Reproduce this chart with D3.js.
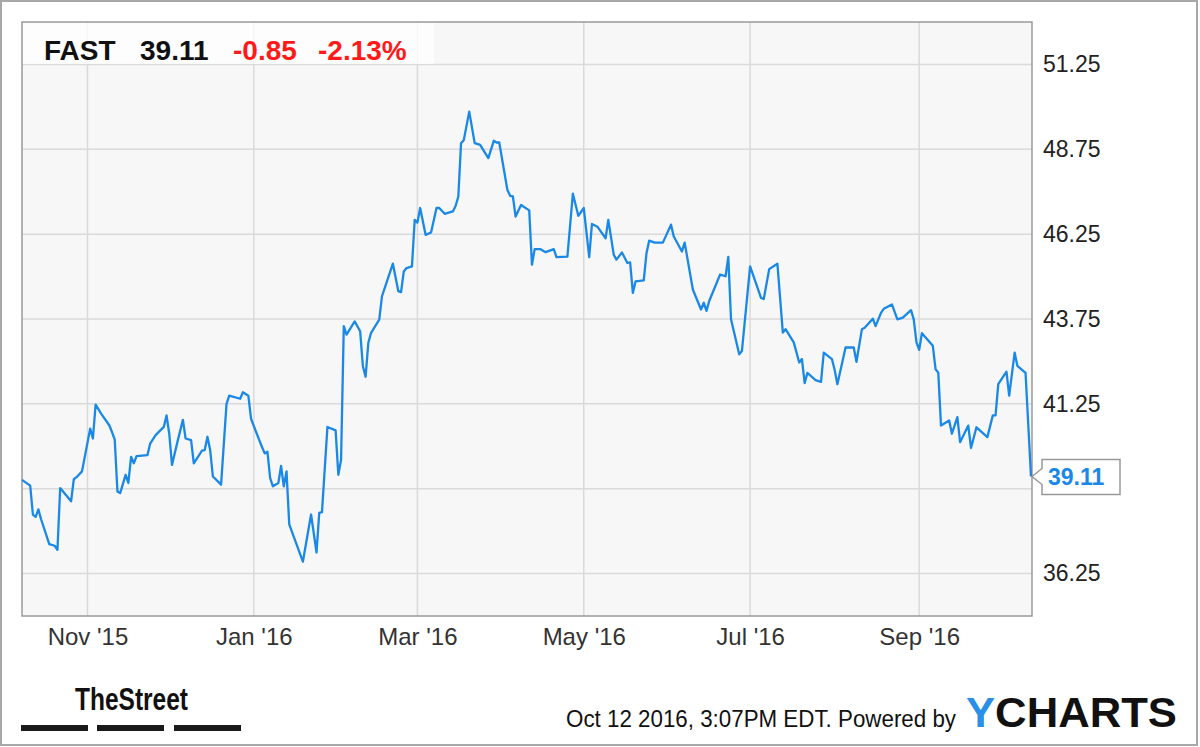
<!DOCTYPE html>
<html>
<head>
<meta charset="utf-8">
<script src="https://cdn.jsdelivr.net/npm/d3@7"></script>
<style>
  body { margin: 0; background: #fff; }
  svg { display: block; font-family: "Liberation Sans", Arial, sans-serif; }
</style>
</head>
<body>
<svg id="chart" width="1200" height="747"></svg>
<script>
// closing prices
var dates = [
  "2015-10-08","2015-10-11","2015-10-12","2015-10-13","2015-10-14","2015-10-15","2015-10-18","2015-10-20","2015-10-21","2015-10-22",
  "2015-10-26","2015-10-27","2015-10-28","2015-10-30","2015-11-02","2015-11-03","2015-11-04","2015-11-06","2015-11-09","2015-11-10",
  "2015-11-11","2015-11-12","2015-11-13","2015-11-15","2015-11-16","2015-11-17","2015-11-18","2015-11-19","2015-11-23","2015-11-24",
  "2015-11-26","2015-11-29","2015-11-30","2015-12-01","2015-12-02","2015-12-04","2015-12-06","2015-12-07","2015-12-09","2015-12-10",
  "2015-12-13","2015-12-14","2015-12-15","2015-12-16","2015-12-17","2015-12-20","2015-12-22","2015-12-23","2015-12-27","2015-12-28",
  "2015-12-30","2015-12-31","2016-01-03","2016-01-04","2016-01-05","2016-01-06","2016-01-07","2016-01-08","2016-01-10","2016-01-11",
  "2016-01-12","2016-01-13","2016-01-14","2016-01-19","2016-01-22","2016-01-24","2016-01-25","2016-01-26","2016-01-28","2016-01-31",
  "2016-02-01","2016-02-02","2016-02-03","2016-02-04","2016-02-07","2016-02-09","2016-02-10","2016-02-11","2016-02-12","2016-02-13",
  "2016-02-16","2016-02-17","2016-02-18","2016-02-21","2016-02-23","2016-02-24","2016-02-25","2016-02-26","2016-02-28","2016-02-29",
  "2016-03-01","2016-03-02","2016-03-04","2016-03-06","2016-03-08","2016-03-09","2016-03-11","2016-03-14","2016-03-15","2016-03-16",
  "2016-03-17","2016-03-18","2016-03-20","2016-03-22","2016-03-24","2016-03-27","2016-03-29","2016-03-30","2016-03-31","2016-04-03",
  "2016-04-04","2016-04-05","2016-04-06","2016-04-08","2016-04-11","2016-04-12","2016-04-13","2016-04-15","2016-04-17","2016-04-20",
  "2016-04-21","2016-04-25","2016-04-27","2016-04-29","2016-05-01","2016-05-03","2016-05-04","2016-05-06","2016-05-09","2016-05-10",
  "2016-05-12","2016-05-13","2016-05-15","2016-05-17","2016-05-18","2016-05-19","2016-05-20","2016-05-23","2016-05-24","2016-05-25",
  "2016-05-27","2016-05-30","2016-06-02","2016-06-03","2016-06-06","2016-06-07","2016-06-10","2016-06-13","2016-06-14","2016-06-15",
  "2016-06-16","2016-06-20","2016-06-22","2016-06-23","2016-06-24","2016-06-27","2016-06-28","2016-07-01","2016-07-05","2016-07-06",
  "2016-07-08","2016-07-11","2016-07-13","2016-07-14","2016-07-17","2016-07-19","2016-07-20","2016-07-21","2016-07-22","2016-07-25",
  "2016-07-27","2016-07-28","2016-07-31","2016-08-01","2016-08-02","2016-08-05","2016-08-08","2016-08-09","2016-08-11","2016-08-12",
  "2016-08-15","2016-08-16","2016-08-18","2016-08-19","2016-08-22","2016-08-24","2016-08-26","2016-08-29","2016-08-30","2016-08-31",
  "2016-09-01","2016-09-02","2016-09-06","2016-09-07","2016-09-08","2016-09-09","2016-09-12","2016-09-13","2016-09-15","2016-09-16",
  "2016-09-19","2016-09-20","2016-09-22","2016-09-26","2016-09-28","2016-09-29","2016-09-30","2016-10-03","2016-10-04","2016-10-06",
  "2016-10-07","2016-10-10","2016-10-12"
];
var prices = [
  39.01,38.84,37.99,37.92,38.14,37.85,37.12,37.07,36.95,38.77,
  38.38,39.03,39.09,39.26,40.52,40.23,41.23,40.96,40.62,40.42,
  40.20,38.67,38.62,39.16,38.92,39.69,39.50,39.71,39.74,40.08,
  40.33,40.57,40.91,40.37,39.45,40.13,40.78,40.23,40.18,39.50,
  39.87,39.89,40.28,39.89,39.11,38.87,41.25,41.49,41.40,41.59,
  41.49,40.81,40.18,39.98,39.79,39.84,39.06,38.82,38.92,39.42,
  38.82,39.26,37.70,36.60,37.99,36.87,38.04,38.06,40.57,40.47,
  39.16,39.60,43.54,43.29,43.68,43.39,42.36,42.05,43.05,43.34,
  43.73,44.42,44.66,45.38,44.57,44.54,45.15,45.25,45.30,46.67,
  46.59,47.02,46.23,46.30,47.02,47.02,46.85,46.92,47.08,47.36,
  48.93,49.02,49.86,48.93,48.88,48.49,49.00,48.95,48.95,47.55,
  47.38,47.36,46.77,47.11,46.95,45.35,45.81,45.81,45.72,45.81,
  45.57,45.59,47.44,46.79,47.02,45.57,46.55,46.47,46.13,46.67,
  45.64,45.50,45.71,45.40,45.42,44.52,44.86,44.89,45.69,46.06,
  46.00,46.00,46.53,46.18,45.74,46.00,44.62,44.03,44.23,43.99,
  44.28,45.06,45.01,45.58,43.74,42.71,42.81,45.30,44.37,44.34,
  45.22,45.38,43.35,43.45,43.06,42.47,42.57,41.86,42.16,41.95,
  41.90,42.76,42.57,42.25,41.83,42.91,42.91,42.49,43.45,43.49,
  43.76,43.54,43.93,44.05,44.18,43.74,43.79,44.01,43.74,43.06,
  42.84,43.33,42.96,42.27,42.17,40.61,40.76,40.37,40.86,40.12,
  40.61,39.95,40.56,40.27,40.91,40.91,41.83,42.20,41.49,42.76,
  42.37,42.16,39.11
];
var yTicks = [36.25, 38.75, 41.25, 43.75, 46.25, 48.75, 51.25];
var ticker = "FAST";
var lastPrice = "39.11";
var change = "-0.85";
var changePct = "-2.13%";
var stamp = "Oct 12 2016, 3:07PM EDT. Powered by";

var svg = d3.select("#chart");
var parse = d3.timeParse("%Y-%m-%d");
var data = dates.map(function(d, i) { return {date: parse(d), value: prices[i]}; });

// plot box (window.top is reserved, so use plotTop etc.)
var plotLeft = 22, plotRight = 1032, plotTop = 22, plotBottom = 616;
var lineColor = "#1a88e6";

var x = d3.scaleTime()
    .domain([parse("2015-10-08"), parse("2016-10-12")])
    .range([plotLeft, plotRight - 1]);
var y = d3.scaleLinear()
    .domain([35, 52.5])
    .range([plotBottom, plotTop]);

var ly = y(prices[prices.length - 1]);

// outer frame
svg.append("rect")
    .attr("x", 1).attr("y", 1)
    .attr("width", 1196).attr("height", 744)
    .attr("fill", "#fff")
    .attr("stroke", "#a8a8a8")
    .attr("stroke-width", 2);

// plot background
svg.append("rect")
    .attr("x", plotLeft).attr("y", plotTop)
    .attr("width", plotRight - plotLeft).attr("height", plotBottom - plotTop)
    .attr("fill", "#f7f7f7");

// grid
var grid = svg.append("g").attr("class", "grid");
grid.selectAll("line.h")
    .data(yTicks)
    .enter().append("line")
    .attr("class", "h")
    .attr("x1", plotLeft).attr("x2", plotRight)
    .attr("y1", function(d) { return y(d); })
    .attr("y2", function(d) { return y(d); })
    .attr("stroke", "#dadada")
    .attr("stroke-width", 1.5);

var monthTicks = x.ticks(d3.timeMonth.every(2));
grid.selectAll("line.v")
    .data(monthTicks)
    .enter().append("line")
    .attr("class", "v")
    .attr("x1", function(d) { return x(d); })
    .attr("x2", function(d) { return x(d); })
    .attr("y1", plotTop).attr("y2", plotBottom)
    .attr("stroke", "#dadada")
    .attr("stroke-width", 1.5);

// plot border
svg.append("rect")
    .attr("x", plotLeft).attr("y", plotTop)
    .attr("width", plotRight - plotLeft).attr("height", plotBottom - plotTop)
    .attr("fill", "none")
    .attr("stroke", "#9a9a9a")
    .attr("stroke-width", 1.5);

// header box, slightly see-through like the original
svg.append("rect")
    .attr("x", plotLeft + 1).attr("y", plotTop + 1)
    .attr("width", 411).attr("height", 41)
    .attr("fill", "#fff")
    .attr("fill-opacity", 0.75);

// price line
var line = d3.line()
    .x(function(d) { return x(d.date); })
    .y(function(d) { return y(d.value); });

svg.append("path")
    .datum(data)
    .attr("fill", "none")
    .attr("stroke", lineColor)
    .attr("stroke-width", 2.3)
    .attr("stroke-linejoin", "round")
    .attr("d", line);

// axes (the label under the last-price flag is hidden, as in the original)
var yAxis = d3.axisRight(y)
    .tickValues(yTicks.filter(function(d) { return Math.abs(y(d) - ly) > 25; }))
    .tickSize(0)
    .tickPadding(11)
    .tickFormat(d3.format(".2f"));

var yg = svg.append("g")
    .attr("transform", "translate(" + plotRight + ",0)")
    .call(yAxis);
yg.select(".domain").remove();
yg.selectAll("text")
    .attr("font-size", 23)
    .attr("font-family", "Liberation Sans, Arial, sans-serif")
    .attr("fill", "#222");

var xAxis = d3.axisBottom(x)
    .ticks(d3.timeMonth.every(2))
    .tickSize(0)
    .tickPadding(12)
    .tickFormat(d3.timeFormat("%b '%y"));

var xg = svg.append("g")
    .attr("transform", "translate(0," + plotBottom + ")")
    .call(xAxis);
xg.select(".domain").remove();
xg.selectAll("text")
    .attr("font-size", 24)
    .attr("font-family", "Liberation Sans, Arial, sans-serif")
    .attr("fill", "#333");

// header text
var header = svg.append("text")
    .attr("y", 60)
    .attr("font-size", 28)
    .attr("font-weight", "bold");
header.append("tspan").attr("x", 44).attr("fill", "#111").text(ticker);
header.append("tspan").attr("x", 140).attr("fill", "#111").text(lastPrice);
header.append("tspan").attr("x", 233).attr("fill", "#ff1a1a").text(change);
header.append("tspan").attr("x", 318).attr("fill", "#ff1a1a").text(changePct);

// last price flag
var flag = svg.append("g").attr("transform", "translate(" + plotRight + "," + ly + ")");
flag.append("path")
    .attr("d", "M0,0 L10,-8 L10,-17 L88,-17 L88,18 L10,18 L10,8 Z")
    .attr("fill", "#fff")
    .attr("stroke", "#999")
    .attr("stroke-width", 1.5);
flag.append("text")
    .attr("x", 16).attr("y", 9)
    .attr("font-size", 23)
    .attr("font-weight", "bold")
    .attr("fill", lineColor)
    .text(lastPrice);

// footer: TheStreet logo
svg.append("text")
    .attr("x", 75).attr("y", 710)
    .attr("font-size", 32)
    .attr("font-weight", "bold")
    .attr("fill", "#111")
    .attr("textLength", 113)
    .attr("lengthAdjust", "spacingAndGlyphs")
    .text("TheStreet");

svg.selectAll("rect.bar")
    .data([21, 97, 174])
    .enter().append("rect")
    .attr("class", "bar")
    .attr("x", function(d) { return d; })
    .attr("y", 725)
    .attr("width", 67)
    .attr("height", 6)
    .attr("fill", "#1a1a1a");

// footer: timestamp and YCHARTS
svg.append("text")
    .attr("x", 566).attr("y", 727)
    .attr("font-size", 23)
    .attr("fill", "#111")
    .attr("textLength", 390)
    .attr("lengthAdjust", "spacingAndGlyphs")
    .text(stamp);

var yc = svg.append("text")
    .attr("x", 966).attr("y", 727)
    .attr("font-size", 43)
    .attr("font-weight", "bold")
    .attr("textLength", 211)
    .attr("lengthAdjust", "spacingAndGlyphs");
yc.append("tspan").attr("fill", "#2a8fe6").text("Y");
yc.append("tspan").attr("fill", "#111").text("CHARTS");
</script>
</body>
</html>
